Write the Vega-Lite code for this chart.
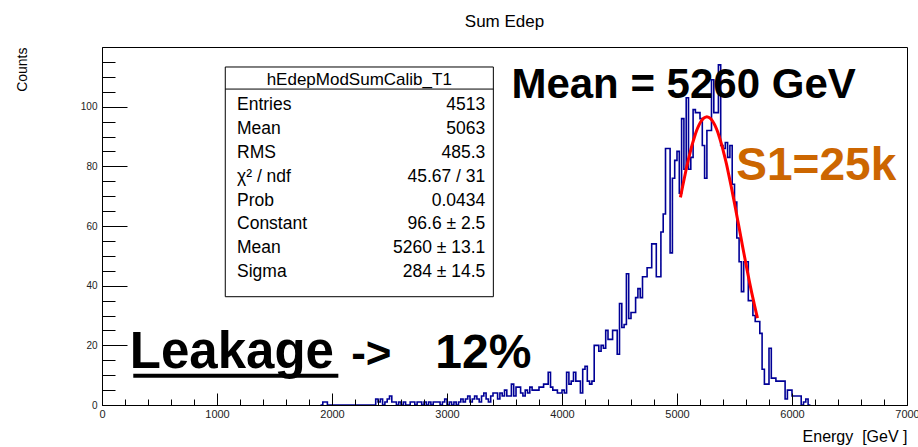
{
  "$schema": "https://vega.github.io/schema/vega-lite/v6.json",
  "width": 805,
  "height": 358,
  "autosize": {"type": "none"},
  "padding": {"left": 102, "top": 47, "right": 11, "bottom": 42},
  "background": "white",
  "title": {"text": "Sum Edep", "fontSize": 17, "fontWeight": "normal", "font": "Liberation Sans", "color": "#000", "anchor": "middle", "frame": "group", "baseline": "alphabetic", "offset": 3},
  "resolve": {"axis": {"x": "independent", "y": "independent"}},
  "datasets": {
    "hist": [
      {"energy":1900,"counts":0},{"energy":1920,"counts":1},{"energy":1940,"counts":1},{"energy":1960,"counts":0},{"energy":1980,"counts":0},
      {"energy":2000,"counts":0},{"energy":2020,"counts":0},{"energy":2040,"counts":0},{"energy":2060,"counts":0},{"energy":2080,"counts":0},
      {"energy":2100,"counts":0},{"energy":2120,"counts":0},{"energy":2140,"counts":0},{"energy":2160,"counts":0},{"energy":2180,"counts":0},
      {"energy":2200,"counts":0},{"energy":2220,"counts":0},{"energy":2240,"counts":0},{"energy":2260,"counts":0},{"energy":2280,"counts":0},
      {"energy":2300,"counts":0},{"energy":2320,"counts":0},{"energy":2340,"counts":0},{"energy":2360,"counts":0},{"energy":2380,"counts":2},
      {"energy":2400,"counts":1},{"energy":2420,"counts":2},{"energy":2440,"counts":0},{"energy":2460,"counts":1},{"energy":2480,"counts":2},
      {"energy":2500,"counts":3},{"energy":2520,"counts":1},{"energy":2540,"counts":1},{"energy":2560,"counts":0},{"energy":2580,"counts":1},
      {"energy":2600,"counts":0},{"energy":2620,"counts":1},{"energy":2640,"counts":0},{"energy":2660,"counts":0},{"energy":2680,"counts":1},
      {"energy":2700,"counts":1},{"energy":2720,"counts":0},{"energy":2740,"counts":1},{"energy":2760,"counts":1},{"energy":2780,"counts":0},
      {"energy":2800,"counts":1},{"energy":2820,"counts":0},{"energy":2840,"counts":1},{"energy":2860,"counts":0},{"energy":2880,"counts":1},
      {"energy":2900,"counts":1},{"energy":2920,"counts":1},{"energy":2940,"counts":0},{"energy":2960,"counts":1},{"energy":2980,"counts":2},
      {"energy":3000,"counts":0},{"energy":3020,"counts":1},{"energy":3040,"counts":0},{"energy":3060,"counts":1},{"energy":3080,"counts":0},
      {"energy":3100,"counts":1},{"energy":3120,"counts":2},{"energy":3140,"counts":1},{"energy":3160,"counts":2},{"energy":3180,"counts":3},
      {"energy":3200,"counts":1},{"energy":3220,"counts":2},{"energy":3240,"counts":3},{"energy":3260,"counts":2},{"energy":3280,"counts":1},
      {"energy":3300,"counts":3},{"energy":3320,"counts":4},{"energy":3340,"counts":2},{"energy":3360,"counts":1},{"energy":3380,"counts":3},
      {"energy":3400,"counts":4},{"energy":3420,"counts":4},{"energy":3440,"counts":2},{"energy":3460,"counts":4},{"energy":3480,"counts":3},
      {"energy":3500,"counts":5},{"energy":3520,"counts":3},{"energy":3540,"counts":3},{"energy":3560,"counts":7},{"energy":3580,"counts":3},
      {"energy":3600,"counts":6},{"energy":3620,"counts":6},{"energy":3640,"counts":4},{"energy":3660,"counts":3},{"energy":3680,"counts":5},
      {"energy":3700,"counts":4},{"energy":3720,"counts":6},{"energy":3740,"counts":5},{"energy":3760,"counts":5},{"energy":3780,"counts":5},
      {"energy":3800,"counts":6},{"energy":3820,"counts":6},{"energy":3840,"counts":7},{"energy":3860,"counts":7},{"energy":3880,"counts":11},
      {"energy":3900,"counts":6},{"energy":3920,"counts":5},{"energy":3940,"counts":5},{"energy":3960,"counts":4},{"energy":3980,"counts":4},
      {"energy":4000,"counts":5},{"energy":4020,"counts":4},{"energy":4040,"counts":11},{"energy":4060,"counts":7},{"energy":4080,"counts":8},
      {"energy":4100,"counts":11},{"energy":4120,"counts":8},{"energy":4140,"counts":8},{"energy":4160,"counts":4},{"energy":4180,"counts":12},
      {"energy":4200,"counts":13},{"energy":4220,"counts":8},{"energy":4240,"counts":7},{"energy":4260,"counts":8},{"energy":4280,"counts":20},
      {"energy":4300,"counts":20},{"energy":4320,"counts":18},{"energy":4340,"counts":20},{"energy":4360,"counts":19},{"energy":4380,"counts":25},
      {"energy":4400,"counts":22},{"energy":4420,"counts":22},{"energy":4440,"counts":25},{"energy":4460,"counts":25},{"energy":4480,"counts":17},
      {"energy":4500,"counts":34},{"energy":4520,"counts":26},{"energy":4540,"counts":27},{"energy":4560,"counts":44},{"energy":4580,"counts":29},
      {"energy":4600,"counts":31},{"energy":4620,"counts":31},{"energy":4640,"counts":36},{"energy":4660,"counts":39},{"energy":4680,"counts":36},
      {"energy":4700,"counts":43},{"energy":4720,"counts":43},{"energy":4740,"counts":46},{"energy":4760,"counts":46},{"energy":4780,"counts":54},
      {"energy":4800,"counts":54},{"energy":4820,"counts":43},{"energy":4840,"counts":43},{"energy":4860,"counts":58},{"energy":4880,"counts":64},
      {"energy":4900,"counts":86},{"energy":4920,"counts":86},{"energy":4940,"counts":51},{"energy":4960,"counts":76},{"energy":4980,"counts":82},
      {"energy":5000,"counts":85},{"energy":5020,"counts":71},{"energy":5040,"counts":96},{"energy":5060,"counts":79},{"energy":5080,"counts":103},
      {"energy":5100,"counts":79},{"energy":5120,"counts":83},{"energy":5140,"counts":99},{"energy":5160,"counts":98},{"energy":5180,"counts":98},
      {"energy":5200,"counts":96},{"energy":5220,"counts":87},{"energy":5240,"counts":76},{"energy":5260,"counts":92},{"energy":5280,"counts":92},
      {"energy":5300,"counts":109},{"energy":5320,"counts":98},{"energy":5340,"counts":98},{"energy":5360,"counts":114},{"energy":5380,"counts":87},
      {"energy":5400,"counts":86},{"energy":5420,"counts":88},{"energy":5440,"counts":83},{"energy":5460,"counts":87},{"energy":5480,"counts":74},
      {"energy":5500,"counts":68},{"energy":5520,"counts":56},{"energy":5540,"counts":48},{"energy":5560,"counts":38},{"energy":5580,"counts":48},
      {"energy":5600,"counts":48},{"energy":5620,"counts":35},{"energy":5640,"counts":35},{"energy":5660,"counts":30},{"energy":5680,"counts":28},
      {"energy":5700,"counts":28},{"energy":5720,"counts":24},{"energy":5740,"counts":12},{"energy":5760,"counts":7},{"energy":5780,"counts":7},
      {"energy":5800,"counts":19},{"energy":5820,"counts":9},{"energy":5840,"counts":9},{"energy":5860,"counts":8},{"energy":5880,"counts":8},
      {"energy":5900,"counts":8},{"energy":5920,"counts":8},{"energy":5940,"counts":2},{"energy":5960,"counts":5},{"energy":5980,"counts":5},
      {"energy":6000,"counts":3},{"energy":6020,"counts":3},{"energy":6040,"counts":3},{"energy":6060,"counts":3},{"energy":6080,"counts":0},
      {"energy":6100,"counts":1},{"energy":6120,"counts":2},{"energy":6140,"counts":0},{"energy":6160,"counts":0}
    ],
    "fit": [
      {"energy":5030,"fit":69.6},{"energy":5050,"fit":73.5},{"energy":5070,"fit":77.2},{"energy":5090,"fit":80.8},{"energy":5110,"fit":84.0},
      {"energy":5130,"fit":87.0},{"energy":5150,"fit":89.6},{"energy":5170,"fit":91.9},{"energy":5190,"fit":93.7},{"energy":5210,"fit":95.1},
      {"energy":5230,"fit":96.1},{"energy":5250,"fit":96.5},{"energy":5260,"fit":96.6},{"energy":5270,"fit":96.5},{"energy":5290,"fit":96.1},
      {"energy":5310,"fit":95.1},{"energy":5330,"fit":93.7},{"energy":5350,"fit":91.9},{"energy":5370,"fit":89.6},{"energy":5390,"fit":87.0},
      {"energy":5410,"fit":84.0},{"energy":5430,"fit":80.8},{"energy":5450,"fit":77.2},{"energy":5470,"fit":73.5},{"energy":5490,"fit":69.6},
      {"energy":5510,"fit":65.6},{"energy":5530,"fit":61.5},{"energy":5550,"fit":57.4},{"energy":5570,"fit":53.2},{"energy":5590,"fit":49.2},
      {"energy":5610,"fit":45.2},{"energy":5630,"fit":41.3},{"energy":5650,"fit":37.6},{"energy":5670,"fit":34.1},{"energy":5690,"fit":30.7},
      {"energy":5700,"fit":29.1}
    ]
  },
  "layer": [
    {
      "data": {"name": "hist"},
      "mark": {"type": "line", "interpolate": "step-after", "color": "#000096", "strokeWidth": 1.6, "clip": true},
      "encoding": {
        "x": {
          "field": "energy", "type": "quantitative",
          "scale": {"domain": [0, 7000], "nice": false, "zero": false},
          "axis": {
            "orient": "bottom",
            "values": [0,1000,2000,3000,4000,5000,6000,7000],
            "format": "d",
            "tickSize": -12,
            "labelPadding": 15,
            "tickColor": "#000", "tickWidth": 1,
            "domainColor": "#000", "domainWidth": 1,
            "grid": false,
            "labelFont": "Liberation Sans",
            "labelFontSize": 11, "labelColor": "#222",
            "labelOverlap": false, "labelFlush": false, "labelBound": false,
            "title": "Energy\u00a0 [GeV ]",
            "titleFont": "Liberation Sans", "titleFontWeight": "normal", "titleFontSize": 16, "titleColor": "#000",
            "titleAnchor": "end", "titlePadding": 9,
            "zindex": 1
          }
        },
        "y": {
          "field": "counts", "type": "quantitative",
          "scale": {"domain": [0, 120], "nice": false},
          "axis": {
            "orient": "left",
            "values": [0,20,40,60,80,100],
            "tickSize": -25,
            "labelPadding": 30,
            "tickColor": "#000", "tickWidth": 1,
            "domainColor": "#000", "domainWidth": 1,
            "grid": false,
            "labelFont": "Liberation Sans",
            "labelFontSize": 10, "labelColor": "#222",
            "labelOverlap": false, "labelFlush": false, "labelBound": false,
            "title": "Counts",
            "titleFont": "Liberation Sans", "titleFontWeight": "normal", "titleFontSize": 14, "titleColor": "#000",
            "titleAnchor": "end", "titlePadding": 51,
            "zindex": 1
          }
        }
      }
    },
    {
      "data": {"name": "fit"},
      "mark": {"type": "line", "color": "#ff0000", "strokeWidth": 3, "interpolate": "monotone"},
      "encoding": {
        "x": {"field": "energy", "type": "quantitative",
          "axis": {"orient": "bottom", "values": [200,400,600,800,1200,1400,1600,1800,2200,2400,2600,2800,3200,3400,3600,3800,4200,4400,4600,4800,5200,5400,5600,5800,6200,6400,6600,6800],
            "tickSize": -6, "tickColor": "#000", "tickWidth": 1, "labels": false, "domain": false, "grid": false, "title": null, "zindex": 1}},
        "y": {"field": "fit", "type": "quantitative",
          "axis": {"orient": "left", "values": [5,10,15,25,30,35,45,50,55,65,70,75,85,90,95,105,110,115],
            "tickSize": -13, "tickColor": "#000", "tickWidth": 1, "labels": false, "domain": false, "grid": false, "title": null, "zindex": 1}}
      }
    },
    {
      "data": {"values": [{}]},
      "mark": {"type": "rect", "fill": "white", "stroke": "#000", "strokeWidth": 1},
      "encoding": {"x": {"datum": 1072, "axis": null}, "x2": {"datum": 3403}, "y": {"datum": 36.3, "axis": null}, "y2": {"datum": 113.3}}
    },
    {
      "data": {"values": [{}]},
      "mark": {"type": "rule", "stroke": "#000", "strokeWidth": 1},
      "encoding": {"x": {"datum": 1072, "axis": null}, "x2": {"datum": 3403}, "y": {"datum": 105.9, "axis": null}}
    },
    {
      "data": {"values": [{}]},
      "mark": {"type": "text", "text": "hEdepModSumCalib_T1", "align": "center", "baseline": "alphabetic", "font": "Liberation Sans", "fontSize": 17, "color": "#000"},
      "encoding": {"x": {"datum": 2237, "axis": null}, "y": {"datum": 107.3, "axis": null}}
    },
    {
      "data": {"values": [{}]},
      "mark": {"type": "text", "text": ["Entries", "Mean", "RMS", "χ² / ndf", "Prob", "Constant", "Mean", "Sigma"], "align": "left", "baseline": "alphabetic", "lineHeight": 23.9, "font": "Liberation Sans", "fontSize": 17.5, "color": "#000"},
      "encoding": {"x": {"datum": 1174, "axis": null}, "y": {"datum": 98.9, "axis": null}}
    },
    {
      "data": {"values": [{}]},
      "mark": {"type": "text", "text": ["4513", "5063", "485.3", "45.67 / 31", "0.0434", "96.6 ± 2.5", "5260 ± 13.1", "284 ± 14.5"], "align": "right", "baseline": "alphabetic", "lineHeight": 23.9, "font": "Liberation Sans", "fontSize": 17.5, "color": "#000"},
      "encoding": {"x": {"datum": 3333, "axis": null}, "y": {"datum": 98.9, "axis": null}}
    },
    {
      "data": {"values": [{}]},
      "mark": {"type": "text", "text": "Mean = 5260 GeV", "align": "left", "baseline": "alphabetic", "font": "Liberation Sans", "fontWeight": "bold", "fontSize": 42, "color": "#000"},
      "encoding": {"x": {"datum": 3560, "axis": null}, "y": {"datum": 102.9, "axis": null}}
    },
    {
      "data": {"values": [{}]},
      "mark": {"type": "text", "text": "S1=25k", "align": "left", "baseline": "alphabetic", "font": "Liberation Sans", "fontWeight": "bold", "fontSize": 46, "color": "#cc6600"},
      "encoding": {"x": {"datum": 5516, "axis": null}, "y": {"datum": 75.5, "axis": null}}
    },
    {
      "data": {"values": [{}]},
      "mark": {"type": "text", "text": "Leakage", "align": "left", "baseline": "alphabetic", "font": "Liberation Sans", "fontWeight": "bold", "fontSize": 51, "color": "#000"},
      "encoding": {"x": {"datum": 242, "axis": null}, "y": {"datum": 12.5, "axis": null}}
    },
    {
      "data": {"values": [{}]},
      "mark": {"type": "text", "text": "->", "align": "left", "baseline": "alphabetic", "font": "Liberation Sans", "fontWeight": "bold", "fontSize": 44, "color": "#000"},
      "encoding": {"x": {"datum": 2167, "axis": null}, "y": {"datum": 12.5, "axis": null}}
    },
    {
      "data": {"values": [{}]},
      "mark": {"type": "text", "text": "12%", "align": "left", "baseline": "alphabetic", "font": "Liberation Sans", "fontWeight": "bold", "fontSize": 48, "color": "#000"},
      "encoding": {"x": {"datum": 2898, "axis": null}, "y": {"datum": 12.5, "axis": null}}
    },
    {
      "data": {"values": [{}]},
      "mark": {"type": "rule", "stroke": "#000", "strokeWidth": 4},
      "encoding": {"x": {"datum": 272, "axis": null}, "x2": {"datum": 2055}, "y": {"datum": 9.8, "axis": null}}
    }
  ],
  "config": {"view": {"stroke": "#000", "strokeWidth": 1}}
}
